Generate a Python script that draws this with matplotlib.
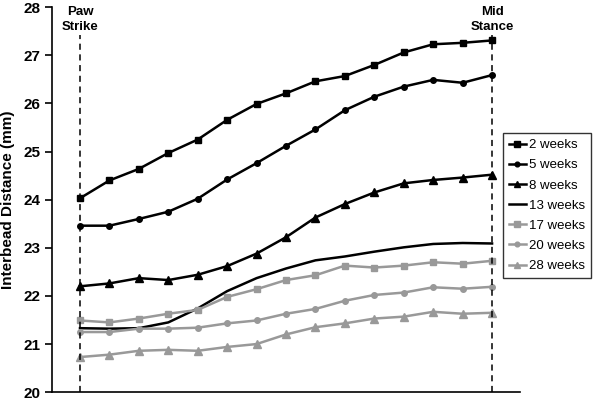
import matplotlib.pyplot as plt

plt.rcParams['font.family'] = ['Liberation Sans', 'DejaVu Sans']

# interbead distance (mm) at 15 points from paw strike to mid stance
w2 = [24.03, 24.4, 24.64, 24.97, 25.25, 25.66, 25.99, 26.21, 26.46, 26.57, 26.8, 27.06, 27.23, 27.26, 27.31]
w5 = [23.46, 23.46, 23.6, 23.75, 24.02, 24.42, 24.76, 25.12, 25.46, 25.86, 26.14, 26.35, 26.49, 26.43, 26.59]
w8 = [22.2, 22.26, 22.37, 22.33, 22.44, 22.62, 22.88, 23.22, 23.63, 23.91, 24.15, 24.34, 24.41, 24.46, 24.52]
w13 = [21.33, 21.32, 21.33, 21.45, 21.74, 22.1, 22.37, 22.57, 22.74, 22.82, 22.92, 23.01, 23.08, 23.1, 23.09]
w17 = [21.49, 21.45, 21.53, 21.63, 21.71, 21.98, 22.14, 22.33, 22.43, 22.63, 22.59, 22.63, 22.7, 22.67, 22.73]
w20 = [21.25, 21.25, 21.32, 21.32, 21.34, 21.43, 21.49, 21.63, 21.73, 21.9, 22.02, 22.07, 22.18, 22.15, 22.19]
w28 = [20.73, 20.78, 20.86, 20.88, 20.86, 20.94, 21.0, 21.2, 21.35, 21.43, 21.53, 21.57, 21.67, 21.63, 21.65]
x = list(range(15))

gray = '#999999'

fig = plt.figure(figsize=(6, 4.01), dpi=100)
ax = fig.add_axes([0.0867, 0.022, 0.78, 0.96])

ax.plot(x, w2, color='black', lw=1.8, marker='s', ms=5, label='2 weeks')
ax.plot(x, w5, color='black', lw=1.8, marker='o', ms=4, label='5 weeks')
ax.plot(x, w8, color='black', lw=1.8, marker='^', ms=5.5, label='8 weeks')
ax.plot(x, w13, color='black', lw=1.8, label='13 weeks')
ax.plot(x, w17, color=gray, lw=1.8, marker='s', ms=5, label='17 weeks')
ax.plot(x, w20, color=gray, lw=1.8, marker='o', ms=4, label='20 weeks')
ax.plot(x, w28, color=gray, lw=1.8, marker='^', ms=5.5, label='28 weeks')

ax.vlines([0, 14], 20, 27.43, colors='black', linestyles=(0, (4, 3)), lw=1.1)
ax.text(0, 27.47, 'Paw\nStrike', ha='center', va='bottom', fontsize=9.5,
        fontweight='bold', linespacing=1.3)
ax.text(14, 27.47, 'Mid\nStance', ha='center', va='bottom', fontsize=9.5,
        fontweight='bold', linespacing=1.3)

ax.set_xlim(-0.95, 14.95)
ax.set_ylim(20, 28)
ax.set_yticks(range(20, 29))
ax.set_xticks([])
ax.spines['top'].set_visible(False)
ax.spines['right'].set_visible(False)
ax.spines['left'].set_linewidth(1.2)
ax.spines['bottom'].set_linewidth(1.2)
ax.tick_params(axis='y', direction='out', length=5, width=1.2, labelsize=11)
for t in ax.get_yticklabels():
    t.set_fontweight('bold')
ax.set_ylabel('Interbead Distance (mm)', fontsize=11, fontweight='bold', labelpad=6)

leg = fig.legend(loc='upper left', bbox_to_anchor=(0.838, 0.668), fontsize=9.5,
                 frameon=True, fancybox=False, edgecolor='black', handlelength=1.3,
                 handletextpad=0.2, borderpad=0.45, borderaxespad=0, labelspacing=0.6,
                 markerscale=0.85)
leg.get_frame().set_linewidth(1.0)

fig.savefig('out.png', dpi=100)
